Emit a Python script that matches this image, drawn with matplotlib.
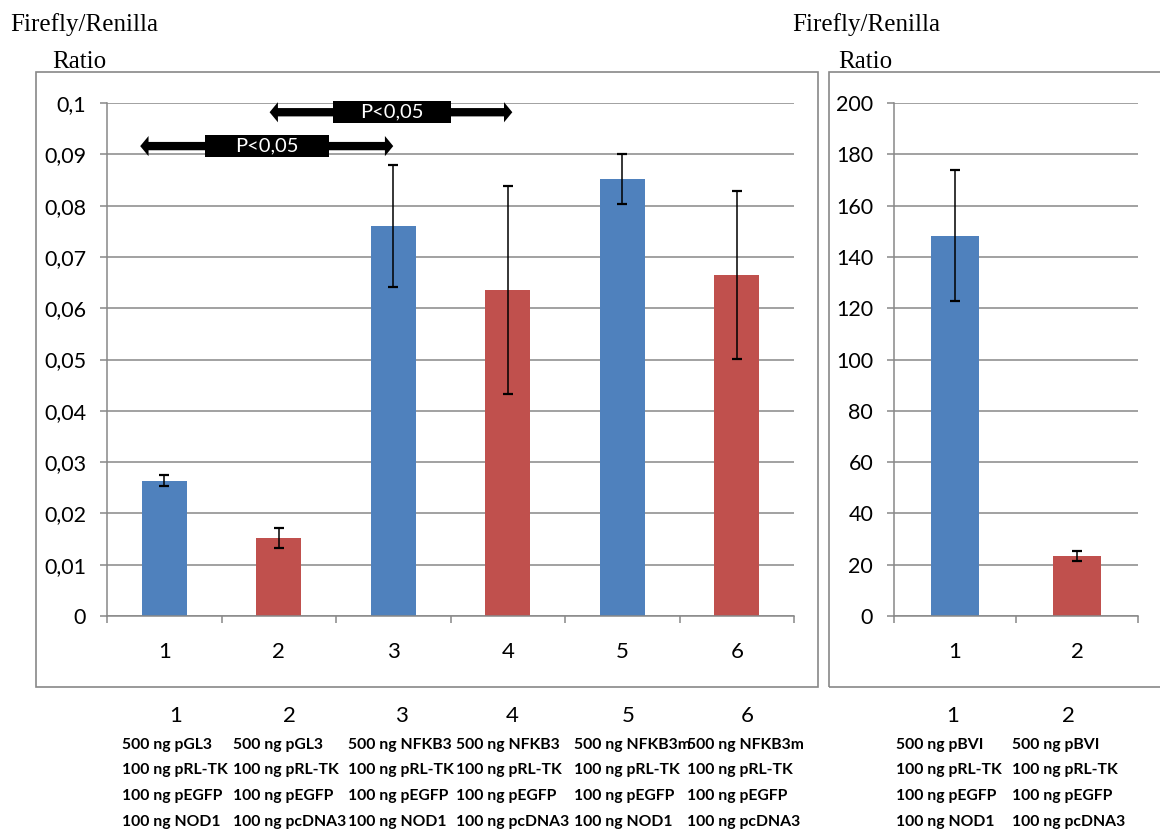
import matplotlib.pyplot as plt
from matplotlib.patches import Rectangle
from matplotlib.ticker import MultipleLocator, FuncFormatter

# data
groups = ['1', '2', '3', '4', '5', '6']
ratio = [0.0264, 0.0152, 0.0761, 0.0635, 0.0852, 0.0665]
ratio_err = [0.0011, 0.0020, 0.0119, 0.0203, 0.0049, 0.0164]

groups_bvi = ['1', '2']
ratio_bvi = [148.3, 23.4]
ratio_bvi_err = [25.6, 2.0]

colors = ['#4F81BD', '#C0504D']

table_left = [
    ['500 ng pGL3', '100 ng pRL-TK', '100 ng pEGFP', '100 ng NOD1'],
    ['500 ng pGL3', '100 ng pRL-TK', '100 ng pEGFP', '100 ng pcDNA3'],
    ['500 ng NFKB3', '100 ng pRL-TK', '100 ng pEGFP', '100 ng NOD1'],
    ['500 ng NFKB3', '100 ng pRL-TK', '100 ng pEGFP', '100 ng pcDNA3'],
    ['500 ng NFKB3m', '100 ng pRL-TK', '100 ng pEGFP', '100 ng NOD1'],
    ['500 ng NFKB3m', '100 ng pRL-TK', '100 ng pEGFP', '100 ng pcDNA3'],
]
table_right = [
    ['500 ng pBVI', '100 ng pRL-TK', '100 ng pEGFP', '100 ng NOD1'],
    ['500 ng pBVI', '100 ng pRL-TK', '100 ng pEGFP', '100 ng pcDNA3'],
]

# significance arrows (x in bar index units, y in data units)
sig_label = 'P<0,05'
sig_arrows = [(-0.21, 2.0, 0.0916), (0.92, 3.04, 0.0982)]
sig_boxes = [(0.36, 1.44), (1.47, 2.50)]

plt.rcParams['font.family'] = ['Lato', 'DejaVu Sans']
GRAY = '#888888'
W, H = 1160, 836


def fx(x):
    return x / W


def fy(y):
    return 1 - y / H


fig = plt.figure(figsize=(11.6, 8.36), dpi=100)

# outer frames
for x0, x1 in [(36, 818), (829, 1175)]:
    fig.patches.append(Rectangle((fx(x0), fy(687)), fx(x1 - x0), (687 - 72) / H,
                                 transform=fig.transFigure, fill=False,
                                 edgecolor=GRAY, lw=1.2, clip_on=False))

ax1 = fig.add_axes([fx(107), fy(616), fx(794 - 107), (616 - 103) / H])
ax2 = fig.add_axes([fx(894), fy(616), fx(1138 - 894), (616 - 103) / H])


def style(ax, n, top, step, fmt):
    ax.set_xlim(-0.5, n - 0.5)
    ax.set_ylim(0, top)
    ax.set_xticks(range(n))
    ax.set_xticks([i - 0.5 for i in range(n + 1)], minor=True)
    ax.yaxis.set_major_locator(MultipleLocator(step))
    ax.yaxis.set_major_formatter(FuncFormatter(fmt))
    ax.grid(axis='y', color=GRAY, lw=1.1)
    ax.set_axisbelow(True)
    for s in ['top', 'right']:
        ax.spines[s].set_visible(False)
    for s in ['left', 'bottom']:
        ax.spines[s].set_color(GRAY)
        ax.spines[s].set_linewidth(1.1)
    ax.tick_params(axis='x', which='major', length=0, pad=19, labelsize=16)
    ax.tick_params(axis='x', which='minor', length=5, width=1.1, color=GRAY)
    ax.tick_params(axis='y', length=5, width=1.1, color=GRAY, pad=10, labelsize=15.5)
    ax.patch.set_alpha(0)


style(ax1, len(groups), 0.1, 0.01, lambda v, p: ('%g' % v).replace('.', ','))
style(ax2, len(groups_bvi), 200, 20, lambda v, p: '%g' % v)

ek = dict(ecolor='black', elinewidth=1.1, capsize=3.6, capthick=1.6)
ax1.bar(range(len(groups)), ratio, width=0.39,
        color=[colors[i % 2] for i in range(len(groups))],
        yerr=ratio_err, error_kw=ek)
ax1.set_xticklabels(groups)
ax2.bar(range(len(groups_bvi)), ratio_bvi, width=0.40,
        color=colors, yerr=ratio_bvi_err, error_kw=ek)
ax2.set_xticklabels(groups_bvi)

# P-value arrows: two pointed arrows from the box centre out to each end
arrow = dict(arrowstyle='simple,head_length=0.6,head_width=1.45,tail_width=0.6',
             fc='black', ec='none', lw=0, shrinkA=0, shrinkB=0, mutation_scale=10)
for (xa, xb, y), (ba, bb) in zip(sig_arrows, sig_boxes):
    xc = (ba + bb) / 2
    for xe in (xa, xb):
        ax1.annotate('', xy=(xe, y), xytext=(xc, y), annotation_clip=False,
                     arrowprops=arrow)
    ax1.add_patch(Rectangle((ba, y - 0.0021), bb - ba, 0.0043,
                            facecolor='black', edgecolor='none', clip_on=False))
    ax1.text(xc, y, sig_label, color='white', fontsize=14.5,
             ha='center', va='center')

# y titles
for x0, x1 in [(10, 52), (792, 838)]:
    fig.text(fx(x0), fy(25), 'Firefly/Renilla', family='Liberation Serif',
             fontsize=18, ha='left', va='center')
    fig.text(fx(x1), fy(62), 'Ratio', family='Liberation Serif',
             fontsize=18, ha='left', va='center')

# condition table under the charts
row_y = [745, 770, 796, 822]
left_starts = [122, 233, 348, 456, 574, 687]
left_heads = [176, 289, 401, 512, 628, 747]
right_starts = [896, 1012]
right_heads = [953, 1068]

for names, starts, heads, lines in [(groups, left_starts, left_heads, table_left),
                                    (groups_bvi, right_starts, right_heads, table_right)]:
    for name, xs, xh, col in zip(names, starts, heads, lines):
        fig.text(fx(xh), fy(716), name, fontsize=16, ha='center', va='center')
        for yy, t in zip(row_y, col):
            fig.text(fx(xs), fy(yy), t, fontsize=11.3, fontweight='bold',
                     ha='left', va='center')

fig.savefig('out.png', dpi=100)
